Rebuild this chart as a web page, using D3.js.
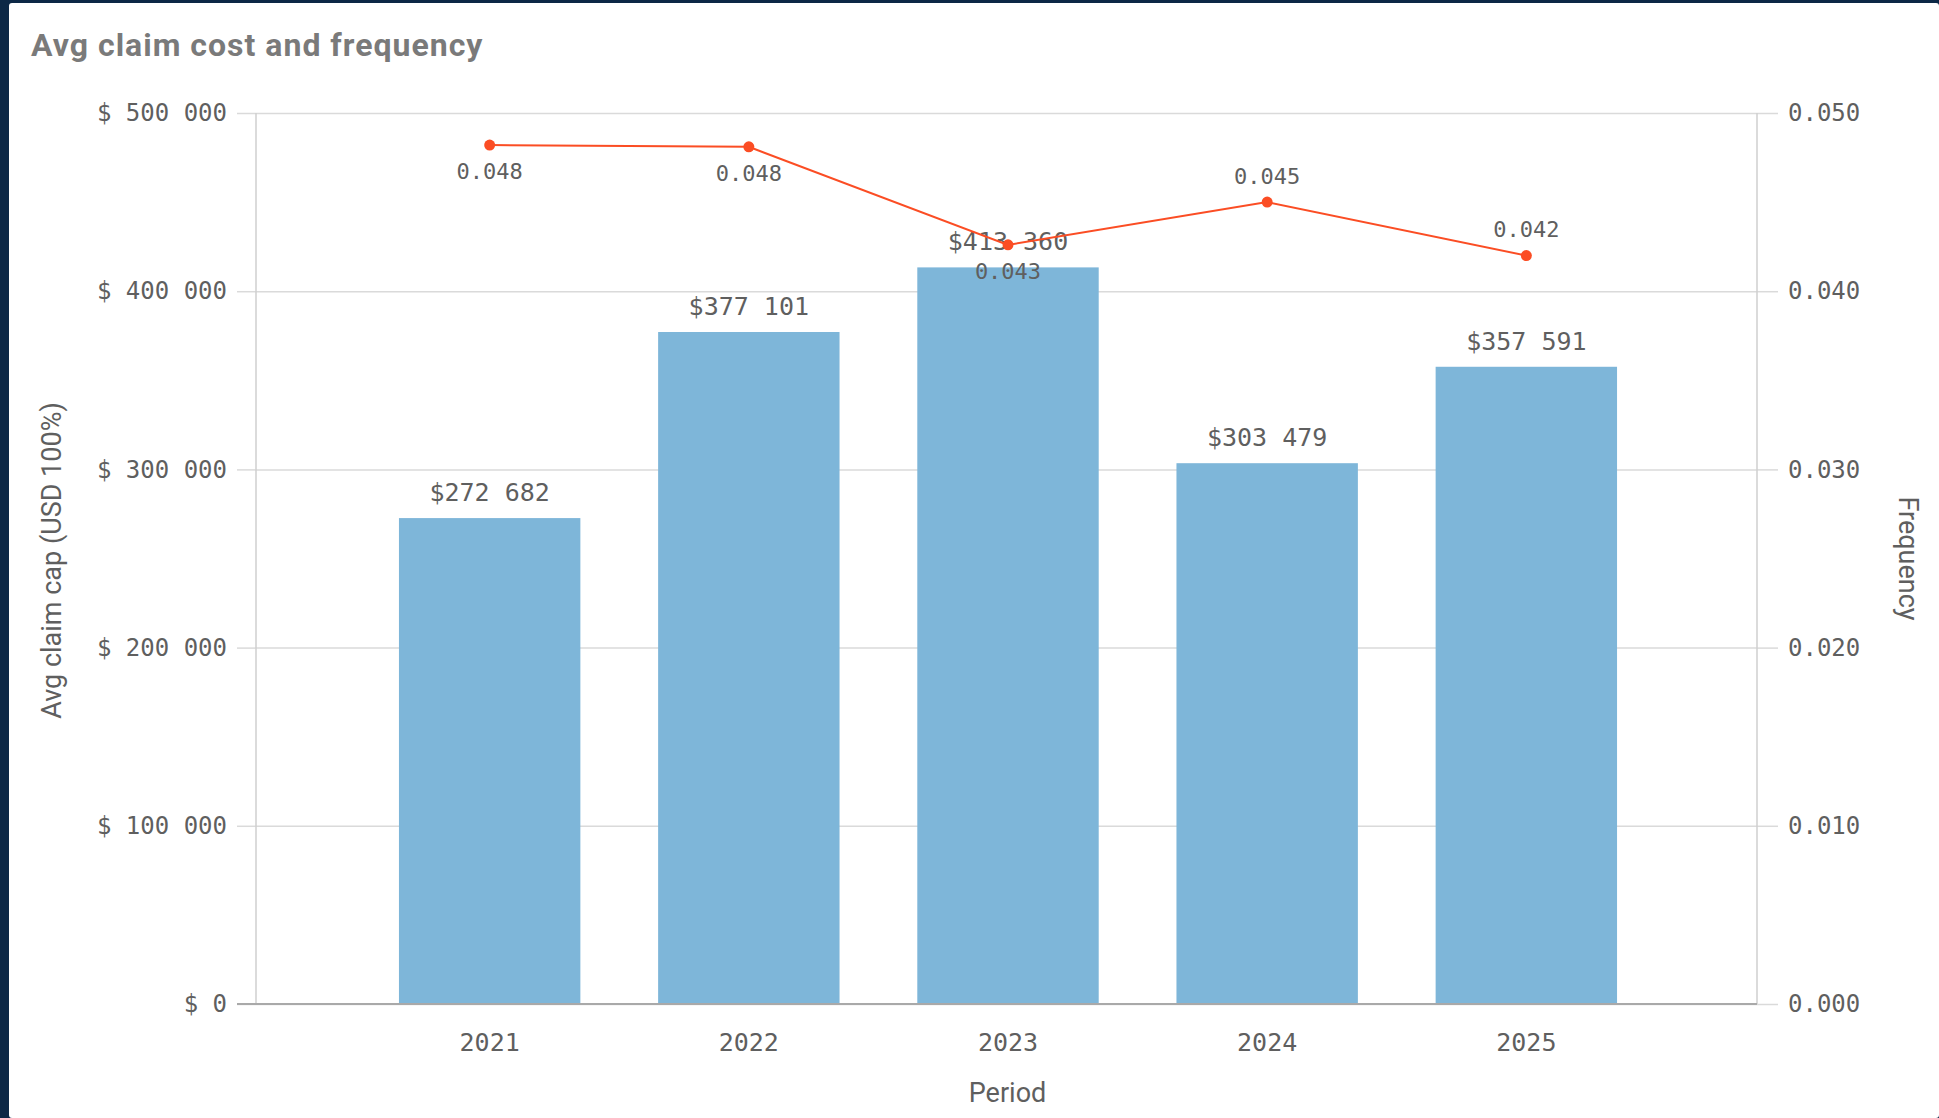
<!DOCTYPE html>
<html>
<head>
<meta charset="utf-8">
<script src="https://cdn.jsdelivr.net/npm/d3@7"></script>
<style>
  html, body { margin: 0; padding: 0; background: #0c2846; }
  svg { display: block; }
</style>
</head>
<body>
<svg id="chart" width="1939" height="1118"></svg>
<script>
// ---------------------------------------------------------------------------
// Data
// ---------------------------------------------------------------------------
const periods = ["2021", "2022", "2023", "2024", "2025"];
const avgClaimCost = [272682, 377101, 413360, 303479, 357591];
const frequency = [0.0482, 0.0481, 0.0426, 0.0450, 0.0420];
const costTicks = [0, 100000, 200000, 300000, 400000, 500000];
const freqTicks = [0, 0.01, 0.02, 0.03, 0.04, 0.05];

const chartTitle = "Avg claim cost and frequency";
const leftTitle = "Avg claim cap (USD 100%)";
const rightTitle = "Frequency";
const xTitle = "Period";

// ---------------------------------------------------------------------------
// Layout / style
// ---------------------------------------------------------------------------
const W = 1939, H = 1118;
const M = { top: 113, right: 182, bottom: 114, left: 256 };
const plotW = W - M.left - M.right;
const plotH = H - M.top - M.bottom;

const BAR = "#7eb6d9";
const LINE = "#fb4d24";
const TEXT = "#5f5f5f";
const GRID = "#dadada";
const NUM_FONT = "'DejaVu Sans Mono', monospace";
const LABEL_FONT = "Roboto, 'Noto Sans', sans-serif";

const loc = d3.formatLocale({ decimal: ".", thousands: " ", grouping: [3], currency: ["$", ""] });
const fmtInt = loc.format(",d");
const fmtFreq = d3.format(".3f");

const svg = d3.select("#chart");

// panel
svg.append("rect")
  .attr("x", 9).attr("y", 3)
  .attr("width", W - 9).attr("height", H - 3)
  .attr("rx", 3)
  .attr("fill", "#ffffff");

// title
svg.append("text")
  .attr("x", 31).attr("y", 56)
  .attr("font-family", LABEL_FONT)
  .attr("font-weight", 700)
  .attr("font-size", 32)
  .attr("letter-spacing", 1)
  .attr("fill", "#7a7a7a")
  .text(chartTitle);

// ---------------------------------------------------------------------------
// Scales
// ---------------------------------------------------------------------------
const x = d3.scaleBand()
  .domain(periods)
  .range([M.left + 3, M.left + plotW])
  .paddingInner(0.3)
  .paddingOuter(0.54);

const y = d3.scaleLinear().domain([0, 500000]).range([M.top + plotH, M.top]);
const y2 = d3.scaleLinear().domain([0, 0.05]).range([M.top + plotH, M.top]);

// ---------------------------------------------------------------------------
// Grid + axes
// ---------------------------------------------------------------------------
const grid = svg.append("g")
  .attr("transform", `translate(${M.left},0)`)
  .call(d3.axisLeft(y).tickValues(costTicks).tickSize(-plotW).tickFormat(""));
grid.select(".domain").remove();
grid.selectAll(".tick line").attr("stroke", GRID).attr("stroke-width", 1.5);

// left axis
const yAxis = svg.append("g")
  .attr("transform", `translate(${M.left},0)`)
  .call(d3.axisLeft(y).tickValues(costTicks).tickSize(19).tickPadding(10)
    .tickFormat(d => "$ " + fmtInt(d)));
yAxis.select(".domain").remove();
yAxis.selectAll(".tick line").attr("stroke", GRID).attr("stroke-width", 1.5);
yAxis.selectAll(".tick text")
  .attr("font-family", NUM_FONT).attr("font-size", 24).attr("fill", TEXT);

// right axis
const y2Axis = svg.append("g")
  .attr("transform", `translate(${M.left + plotW},0)`)
  .call(d3.axisRight(y2).tickValues(freqTicks).tickSize(21).tickPadding(10)
    .tickFormat(fmtFreq));
y2Axis.select(".domain").remove();
y2Axis.selectAll(".tick line").attr("stroke", GRID).attr("stroke-width", 1.5);
y2Axis.selectAll(".tick text")
  .attr("font-family", NUM_FONT).attr("font-size", 24).attr("fill", TEXT);

// vertical axis lines
[M.left, M.left + plotW].forEach(xx => {
  svg.append("line")
    .attr("x1", xx).attr("x2", xx)
    .attr("y1", M.top).attr("y2", M.top + plotH)
    .attr("stroke", "#cfcfcf").attr("stroke-width", 1.5);
});

// ---------------------------------------------------------------------------
// Bars
// ---------------------------------------------------------------------------
const bars = svg.append("g");
bars.selectAll("rect")
  .data(periods)
  .join("rect")
  .attr("x", d => x(d))
  .attr("y", (d, i) => y(avgClaimCost[i]))
  .attr("width", x.bandwidth())
  .attr("height", (d, i) => y(0) - y(avgClaimCost[i]))
  .attr("fill", BAR);

const barLabels = svg.append("g");
barLabels.selectAll("text")
  .data(periods)
  .join("text")
  .attr("x", d => x(d) + x.bandwidth() / 2)
  .attr("y", (d, i) => y(avgClaimCost[i]) - 17)
  .attr("text-anchor", "middle")
  .attr("font-family", NUM_FONT)
  .attr("font-size", 25)
  .attr("fill", TEXT)
  .text((d, i) => "$" + fmtInt(avgClaimCost[i]));

// bottom axis
const xAxis = svg.append("g")
  .attr("transform", `translate(0,${M.top + plotH})`)
  .call(d3.axisBottom(x).tickSize(0).tickPadding(29));
xAxis.select(".domain").remove();
xAxis.selectAll(".tick text")
  .attr("font-family", NUM_FONT).attr("font-size", 25).attr("fill", TEXT);

svg.append("line")
  .attr("x1", M.left - 19).attr("x2", M.left + plotW)
  .attr("y1", y(0)).attr("y2", y(0))
  .attr("stroke", "#a9a9a9").attr("stroke-width", 2);

// ---------------------------------------------------------------------------
// Frequency line
// ---------------------------------------------------------------------------
const cx = d => x(d) + x.bandwidth() / 2;
const line = d3.line()
  .x(d => cx(d))
  .y((d, i) => y2(frequency[i]));

svg.append("path")
  .datum(periods)
  .attr("d", line)
  .attr("fill", "none")
  .attr("stroke", LINE)
  .attr("stroke-width", 2);

svg.append("g").selectAll("circle")
  .data(periods)
  .join("circle")
  .attr("cx", d => cx(d))
  .attr("cy", (d, i) => y2(frequency[i]))
  .attr("r", 5.5)
  .attr("fill", LINE);

// labels: above the point unless it would leave the plot or crowd the bar label
const LBL_OFF = 26, LBL_HALF = 12;
function labelBelow(i) {
  const py = y2(frequency[i]);
  const above = py - LBL_OFF;
  if (above - LBL_HALF < M.top + 10) return true;
  const barLbl = y(avgClaimCost[i]) - 24;
  return Math.abs(above - barLbl) < 2 * LBL_HALF + 14;
}

svg.append("g").selectAll("text")
  .data(periods)
  .join("text")
  .attr("x", d => cx(d))
  .attr("y", (d, i) => y2(frequency[i]) + (labelBelow(i) ? LBL_OFF : -LBL_OFF))
  .attr("dy", "0.35em")
  .attr("text-anchor", "middle")
  .attr("font-family", NUM_FONT)
  .attr("font-size", 22)
  .attr("fill", TEXT)
  .text((d, i) => fmtFreq(frequency[i]));

// ---------------------------------------------------------------------------
// Axis titles
// ---------------------------------------------------------------------------
const midY = M.top + plotH / 2;

svg.append("text")
  .attr("transform", `translate(52,${midY + 2}) rotate(-90)`)
  .attr("text-anchor", "middle")
  .attr("dy", "0.35em")
  .attr("font-family", LABEL_FONT)
  .attr("font-size", 27)
  .attr("fill", TEXT)
  .text(leftTitle);

svg.append("text")
  .attr("transform", `translate(1908,${midY}) rotate(90)`)
  .attr("text-anchor", "middle")
  .attr("dy", "0.35em")
  .attr("font-family", LABEL_FONT)
  .attr("font-size", 27)
  .attr("fill", TEXT)
  .text(rightTitle);

svg.append("text")
  .attr("x", M.left + plotW / 2 + 1)
  .attr("y", 1093)
  .attr("dy", "0.35em")
  .attr("text-anchor", "middle")
  .attr("font-family", LABEL_FONT)
  .attr("font-size", 27)
  .attr("fill", TEXT)
  .text(xTitle);
</script>
</body>
</html>
